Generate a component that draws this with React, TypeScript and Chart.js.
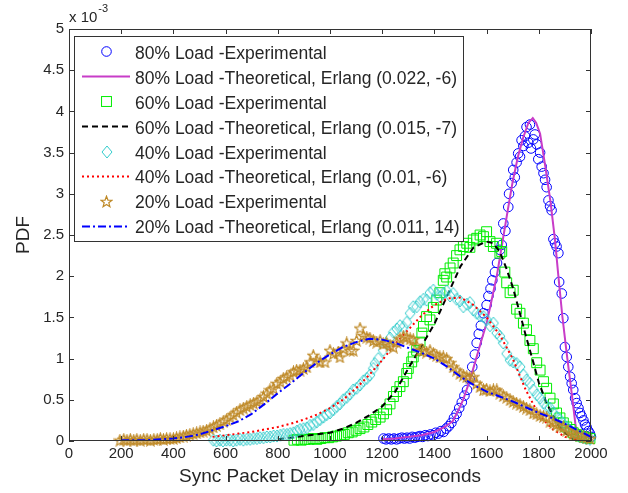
import React, { useEffect, useRef } from 'react';
import { Chart, registerables } from 'chart.js';

Chart.register(...registerables);

const FONT = "'Liberation Sans', Arial, Helvetica, sans-serif";
const AXIS_COLOR = '#333333';
const TEXT_COLOR = '#262626';

const xTicks = [0, 200, 400, 600, 800, 1000, 1200, 1400, 1600, 1800, 2000];
const yTicks = [0, 0.5, 1, 1.5, 2, 2.5, 3, 3.5, 4, 4.5, 5];

const legendLabels = [
  '80% Load -Experimental',
  '80% Load -Theoretical, Erlang (0.022, -6)',
  '60% Load -Experimental',
  '60% Load -Theoretical, Erlang (0.015, -7)',
  '40% Load -Experimental',
  '40% Load -Theoretical, Erlang (0.01, -6)',
  '20% Load -Experimental',
  '20% Load -Theoretical, Erlang (0.011, 14)',
];

// 80% load, experimental (y in units of 1e-3)
const exp80X = [1205, 1215, 1225, 1235, 1245, 1255, 1265, 1275, 1285, 1295, 1305, 1315, 1325, 1335, 1345, 1355, 1365, 1375, 1385, 1395, 1405, 1415, 1425, 1435, 1445, 1455, 1465, 1475, 1485, 1495, 1505, 1515, 1525, 1535, 1545, 1555, 1562, 1570, 1578, 1588, 1600, 1607, 1615, 1622, 1632, 1640, 1651, 1658, 1664, 1672, 1683, 1686, 1696, 1702, 1708, 1715, 1721, 1728, 1734, 1741, 1747, 1753, 1760, 1766, 1770, 1779, 1785, 1792, 1798, 1805, 1811, 1818, 1824, 1830, 1837, 1843, 1849, 1856, 1862, 1868, 1875, 1878, 1888, 1894, 1900, 1907, 1913, 1920, 1926, 1932, 1939, 1945, 1952, 1958, 1964, 1971, 1977, 1983, 1990, 1996, 2000];
const exp80Y = [0.03, 0.02, 0.03, 0.02, 0.03, 0.02, 0.03, 0.04, 0.03, 0.04, 0.03, 0.05, 0.04, 0.05, 0.06, 0.05, 0.07, 0.06, 0.08, 0.07, 0.10, 0.09, 0.12, 0.11, 0.15, 0.18, 0.22, 0.28, 0.33, 0.40, 0.47, 0.55, 0.62, 0.75, 0.90, 1.05, 1.19, 1.30, 1.40, 1.55, 1.65, 1.76, 1.85, 1.95, 2.05, 2.16, 2.32, 2.38, 2.64, 2.55, 2.84, 3.00, 3.13, 3.29, 3.20, 3.38, 3.49, 3.45, 3.65, 3.58, 3.70, 3.81, 3.62, 3.84, 3.55, 3.66, 3.72, 3.60, 3.42, 3.50, 3.33, 3.25, 3.17, 3.08, 2.92, 2.85, 2.80, 2.45, 2.40, 2.36, 2.28, 1.93, 1.79, 1.49, 1.14, 1.02, 0.90, 0.78, 0.70, 0.62, 0.52, 0.46, 0.40, 0.34, 0.30, 0.25, 0.20, 0.17, 0.12, 0.09, 0.05];

// 80% load, theoretical
const theo80X = [1200, 1250, 1300, 1350, 1400, 1440, 1470, 1490, 1510, 1535, 1560, 1580, 1600, 1620, 1640, 1660, 1680, 1700, 1720, 1740, 1760, 1777, 1790, 1805, 1825, 1845, 1862, 1875, 1890, 1907, 1926, 1940, 1950];
const theo80Y = [0.02, 0.03, 0.05, 0.07, 0.11, 0.17, 0.24, 0.36, 0.50, 0.73, 1.00, 1.22, 1.43, 1.72, 2.02, 2.40, 2.78, 3.15, 3.45, 3.68, 3.86, 3.92, 3.86, 3.73, 3.33, 2.90, 2.44, 2.00, 1.52, 1.06, 0.58, 0.21, 0.04];

// 60% load, experimental
const exp60X = [862, 875, 890, 905, 920, 935, 950, 965, 980, 995, 1010, 1025, 1040, 1055, 1070, 1085, 1100, 1115, 1130, 1145, 1160, 1175, 1192, 1205, 1217, 1230, 1243, 1255, 1268, 1281, 1294, 1300, 1313, 1319, 1332, 1345, 1352, 1358, 1370, 1383, 1396, 1409, 1421, 1434, 1440, 1447, 1460, 1472, 1485, 1498, 1511, 1524, 1536, 1549, 1562, 1575, 1588, 1600, 1613, 1626, 1638, 1651, 1658, 1670, 1677, 1690, 1702, 1715, 1728, 1741, 1753, 1766, 1779, 1792, 1805, 1818, 1830, 1843, 1856, 1868, 1881, 1894, 1907, 1920, 1932, 1945, 1958, 1971, 1983, 1996];
const exp60Y = [0.01, 0.02, 0.01, 0.02, 0.02, 0.03, 0.02, 0.03, 0.04, 0.04, 0.05, 0.06, 0.07, 0.08, 0.10, 0.11, 0.13, 0.15, 0.17, 0.20, 0.23, 0.26, 0.29, 0.33, 0.38, 0.45, 0.54, 0.60, 0.66, 0.72, 0.82, 0.88, 0.96, 1.02, 1.10, 1.20, 1.31, 1.39, 1.51, 1.47, 1.62, 1.71, 1.80, 1.95, 2.03, 1.99, 2.10, 2.16, 2.25, 2.32, 2.36, 2.40, 2.35, 2.44, 2.46, 2.50, 2.48, 2.54, 2.42, 2.36, 2.40, 2.28, 2.30, 2.05, 1.92, 1.80, 1.83, 1.60, 1.55, 1.43, 1.35, 1.22, 1.12, 0.95, 0.86, 0.72, 0.64, 0.52, 0.45, 0.34, 0.28, 0.22, 0.17, 0.14, 0.10, 0.08, 0.06, 0.05, 0.04, 0.03];

// 60% load, theoretical
const theo60X = [800, 850, 900, 950, 1000, 1050, 1100, 1150, 1200, 1250, 1300, 1350, 1400, 1450, 1500, 1550, 1600, 1625, 1650, 1675, 1700, 1725, 1750, 1775, 1800, 1825, 1850, 1875, 1900, 1930, 1960];
const theo60Y = [0.02, 0.04, 0.06, 0.08, 0.10, 0.15, 0.22, 0.31, 0.42, 0.60, 0.88, 1.15, 1.42, 1.77, 2.12, 2.35, 2.42, 2.40, 2.30, 2.10, 1.87, 1.58, 1.28, 1.00, 0.71, 0.50, 0.33, 0.19, 0.10, 0.03, 0.01];

// 40% load, experimental
const exp40X = [553, 565, 578, 590, 603, 616, 629, 642, 655, 668, 681, 694, 707, 720, 732, 745, 758, 771, 784, 797, 810, 822, 835, 847, 860, 873, 885, 898, 911, 924, 936, 949, 962, 975, 987, 1000, 1013, 1026, 1038, 1051, 1064, 1077, 1089, 1102, 1115, 1128, 1141, 1153, 1166, 1172, 1185, 1204, 1217, 1230, 1243, 1256, 1268, 1281, 1294, 1307, 1319, 1332, 1345, 1358, 1370, 1383, 1396, 1409, 1421, 1434, 1447, 1460, 1472, 1485, 1498, 1511, 1524, 1536, 1549, 1562, 1575, 1588, 1600, 1613, 1626, 1639, 1651, 1664, 1677, 1690, 1702, 1715, 1728, 1741, 1753, 1766, 1779, 1792, 1805, 1818, 1830, 1843, 1856, 1868, 1881, 1894, 1907, 1920, 1932, 1945, 1958, 1971, 1983, 1996];
const exp40Y = [0.01, 0.00, 0.01, 0.00, 0.01, 0.01, 0.00, 0.01, 0.02, 0.01, 0.02, 0.02, 0.03, 0.03, 0.04, 0.04, 0.05, 0.05, 0.06, 0.06, 0.07, 0.08, 0.08, 0.09, 0.10, 0.12, 0.14, 0.15, 0.16, 0.19, 0.20, 0.23, 0.26, 0.29, 0.32, 0.34, 0.38, 0.42, 0.45, 0.50, 0.53, 0.57, 0.62, 0.64, 0.68, 0.73, 0.76, 0.80, 0.88, 0.94, 1.00, 1.10, 1.18, 1.25, 1.32, 1.36, 1.40, 1.38, 1.44, 1.55, 1.63, 1.63, 1.69, 1.72, 1.71, 1.80, 1.83, 1.78, 1.75, 1.79, 1.82, 1.76, 1.79, 1.72, 1.70, 1.63, 1.66, 1.68, 1.59, 1.55, 1.52, 1.51, 1.47, 1.40, 1.43, 1.31, 1.27, 1.19, 1.06, 0.98, 0.96, 0.94, 0.90, 0.80, 0.74, 0.70, 0.62, 0.56, 0.52, 0.46, 0.42, 0.40, 0.34, 0.29, 0.26, 0.21, 0.17, 0.13, 0.10, 0.07, 0.05, 0.04, 0.03, 0.02];

// 40% load, theoretical
const theo40X = [550, 600, 650, 700, 750, 800, 850, 900, 950, 1000, 1050, 1100, 1150, 1200, 1250, 1300, 1350, 1400, 1450, 1500, 1550, 1600, 1650, 1700, 1750, 1800, 1850, 1900, 1950];
const theo40Y = [0.05, 0.07, 0.09, 0.11, 0.14, 0.17, 0.21, 0.26, 0.32, 0.40, 0.50, 0.64, 0.80, 0.98, 1.18, 1.35, 1.52, 1.65, 1.73, 1.74, 1.65, 1.50, 1.29, 1.00, 0.62, 0.32, 0.15, 0.05, 0.01];

// 20% load, experimental
const exp20X = [195, 210, 222, 235, 248, 260, 273, 286, 299, 312, 325, 338, 350, 362, 374, 387, 400, 412, 425, 438, 450, 463, 476, 489, 502, 514, 527, 540, 553, 565, 578, 591, 604, 617, 629, 642, 655, 668, 681, 694, 707, 720, 732, 745, 758, 770, 783, 796, 809, 821, 834, 847, 860, 872, 885, 898, 911, 924, 936, 949, 962, 981, 1000, 1013, 1032, 1038, 1051, 1064, 1077, 1089, 1102, 1115, 1128, 1141, 1153, 1166, 1179, 1192, 1204, 1217, 1230, 1243, 1256, 1268, 1281, 1294, 1307, 1319, 1332, 1345, 1358, 1370, 1383, 1396, 1409, 1421, 1434, 1447, 1460, 1472, 1485, 1498, 1511, 1524, 1536, 1549, 1562, 1575, 1588, 1600, 1613, 1626, 1639, 1651, 1664, 1677, 1690, 1702, 1715, 1728, 1741, 1753, 1766, 1779, 1792, 1805, 1818, 1830, 1843, 1856, 1868, 1881, 1894, 1907, 1920, 1932, 1945, 1958, 1971, 1983, 1996];
const exp20Y = [0.01, 0.02, 0.01, 0.02, 0.01, 0.02, 0.01, 0.02, 0.02, 0.01, 0.02, 0.02, 0.03, 0.02, 0.03, 0.03, 0.03, 0.04, 0.05, 0.06, 0.07, 0.08, 0.09, 0.10, 0.11, 0.12, 0.13, 0.15, 0.17, 0.19, 0.21, 0.24, 0.26, 0.29, 0.32, 0.35, 0.38, 0.40, 0.42, 0.44, 0.46, 0.48, 0.50, 0.54, 0.58, 0.62, 0.64, 0.70, 0.72, 0.76, 0.78, 0.80, 0.84, 0.86, 0.86, 0.88, 0.90, 0.96, 1.04, 0.98, 0.96, 0.96, 1.10, 1.06, 1.08, 1.02, 1.12, 1.19, 1.10, 1.10, 1.22, 1.37, 1.28, 1.26, 1.25, 1.22, 1.20, 1.22, 1.18, 1.19, 1.16, 1.14, 1.20, 1.24, 1.27, 1.26, 1.24, 1.23, 1.16, 1.10, 1.10, 1.08, 1.10, 1.06, 1.04, 1.02, 1.02, 1.00, 0.95, 0.90, 0.86, 0.82, 0.80, 0.78, 0.77, 0.78, 0.70, 0.66, 0.62, 0.63, 0.61, 0.62, 0.62, 0.58, 0.55, 0.53, 0.50, 0.48, 0.46, 0.44, 0.42, 0.40, 0.38, 0.34, 0.33, 0.31, 0.30, 0.29, 0.24, 0.22, 0.20, 0.18, 0.17, 0.13, 0.11, 0.09, 0.08, 0.07, 0.05, 0.04, 0.03];

// 20% load, theoretical
const theo20X = [200, 250, 300, 350, 400, 450, 500, 550, 600, 650, 700, 750, 800, 850, 900, 950, 1000, 1050, 1100, 1150, 1200, 1250, 1300, 1350, 1400, 1450, 1500, 1550, 1600, 1650, 1700, 1750, 1800, 1850, 1900, 1950, 2000];
const theo20Y = [0.01, 0.01, 0.01, 0.02, 0.03, 0.05, 0.08, 0.13, 0.18, 0.24, 0.33, 0.45, 0.58, 0.70, 0.83, 0.95, 1.05, 1.14, 1.20, 1.24, 1.23, 1.19, 1.13, 1.07, 1.00, 0.90, 0.78, 0.68, 0.60, 0.54, 0.48, 0.41, 0.34, 0.28, 0.21, 0.13, 0.05];

const COLORS = {
  blue: '#0000ff',
  magenta: '#c83cc8',
  green: '#00ee00',
  black: '#000000',
  cyan: '#33cccc',
  red: '#ff0000',
  gold: '#bf8a28',
};

function pts(xs: number[], ys: number[]) {
  return xs.map((x, i) => ({ x, y: ys[i] }));
}

function makeStar(color: string): HTMLCanvasElement {
  const c = document.createElement('canvas');
  c.width = 13;
  c.height = 13;
  const ctx = c.getContext('2d')!;
  const cx = 6.5, cy = 7, R = 5.8, r = 2.4;
  ctx.beginPath();
  for (let i = 0; i < 10; i++) {
    const rad = i % 2 === 0 ? R : r;
    const a = -Math.PI / 2 + (i * Math.PI) / 5;
    const px = cx + rad * Math.cos(a);
    const py = cy + rad * Math.sin(a);
    if (i === 0) ctx.moveTo(px, py);
    else ctx.lineTo(px, py);
  }
  ctx.closePath();
  ctx.strokeStyle = color;
  ctx.lineWidth = 1.2;
  ctx.stroke();
  return c;
}

function makeDiamond(color: string): HTMLCanvasElement {
  const c = document.createElement('canvas');
  c.width = 12;
  c.height = 14;
  const ctx = c.getContext('2d')!;
  ctx.beginPath();
  ctx.moveTo(6, 1);
  ctx.lineTo(11, 7);
  ctx.lineTo(6, 13);
  ctx.lineTo(1, 7);
  ctx.closePath();
  ctx.strokeStyle = color;
  ctx.lineWidth = 1;
  ctx.stroke();
  return c;
}

export default function App() {
  const ref = useRef<HTMLCanvasElement | null>(null);

  useEffect(() => {
    if (!ref.current) return;
    const star = makeStar(COLORS.gold);
    const diamond = makeDiamond(COLORS.cyan);

    const datasets: any[] = [
      { label: legendLabels[0], data: pts(exp80X, exp80Y), showLine: false, pointStyle: 'circle', pointRadius: 4.8, borderColor: COLORS.blue, backgroundColor: 'rgba(0,0,0,0)', pointBorderWidth: 1, kind: 'marker' },
      { label: legendLabels[1], data: pts(theo80X, theo80Y), showLine: true, pointRadius: 0, borderColor: COLORS.magenta, borderWidth: 2, borderDash: [], kind: 'line' },
      { label: legendLabels[2], data: pts(exp60X, exp60Y), showLine: false, pointStyle: 'rect', pointRadius: 7, borderColor: COLORS.green, backgroundColor: 'rgba(0,0,0,0)', pointBorderWidth: 1, kind: 'marker' },
      { label: legendLabels[3], data: pts(theo60X, theo60Y), showLine: true, pointRadius: 0, borderColor: COLORS.black, borderWidth: 2, borderDash: [6, 4], kind: 'line' },
      { label: legendLabels[4], data: pts(exp40X, exp40Y), showLine: false, pointStyle: diamond, pointRadius: 6, borderColor: COLORS.cyan, backgroundColor: 'rgba(0,0,0,0)', kind: 'marker' },
      { label: legendLabels[5], data: pts(theo40X, theo40Y), showLine: true, pointRadius: 0, borderColor: COLORS.red, borderWidth: 2, borderDash: [2, 3], kind: 'line' },
      { label: legendLabels[6], data: pts(exp20X, exp20Y), showLine: false, pointStyle: star, pointRadius: 6, borderColor: COLORS.gold, backgroundColor: 'rgba(0,0,0,0)', kind: 'marker' },
      { label: legendLabels[7], data: pts(theo20X, theo20Y), showLine: true, pointRadius: 0, borderColor: COLORS.blue, borderWidth: 2, borderDash: [8, 3, 2, 3], kind: 'line' },
    ];
    datasets.forEach((d, i) => {
      d.order = datasets.length - i;
      d.tension = 0;
      d.fill = false;
      if (d.kind === 'marker') d.clip = 8;
    });

    const framePlugin = {
      id: 'matlabFrame',
      afterDraw(chart: any) {
        const { ctx, chartArea } = chart;
        const { left, right, top, bottom } = chartArea;
        const xs = chart.scales.x;
        const ys = chart.scales.y;
        ctx.save();
        ctx.strokeStyle = AXIS_COLOR;
        ctx.lineWidth = 1;
        ctx.setLineDash([]);
        ctx.strokeRect(left + 0.5, top + 0.5, right - left - 1, bottom - top - 1);
        const tl = 5;
        ctx.beginPath();
        xTicks.forEach((v) => {
          const px = Math.round(xs.getPixelForValue(v)) + 0.5;
          ctx.moveTo(px, bottom);
          ctx.lineTo(px, bottom - tl);
          ctx.moveTo(px, top);
          ctx.lineTo(px, top + tl);
        });
        yTicks.forEach((v) => {
          const py = Math.round(ys.getPixelForValue(v)) + 0.5;
          ctx.moveTo(left, py);
          ctx.lineTo(left + tl, py);
          ctx.moveTo(right, py);
          ctx.lineTo(right - tl, py);
        });
        ctx.stroke();

        // exponent label
        ctx.fillStyle = TEXT_COLOR;
        ctx.textBaseline = 'alphabetic';
        ctx.textAlign = 'left';
        ctx.font = `15px ${FONT}`;
        ctx.fillText('x 10', left, 22);
        const w = ctx.measureText('x 10').width;
        ctx.font = `11px ${FONT}`;
        ctx.fillText('-3', left + w + 1, 12);

        // legend
        const lx = 74, ly = 36, lw = 389, lh = 205;
        ctx.fillStyle = '#ffffff';
        ctx.fillRect(lx, ly, lw, lh);
        ctx.strokeStyle = AXIS_COLOR;
        ctx.strokeRect(lx + 0.5, ly + 0.5, lw, lh);
        chart.data.datasets.forEach((d: any, i: number) => {
          const base = 58.7 + i * 24.95;
          const mid = Math.round(base - 7.5) + 0.5;
          ctx.save();
          if (d.kind === 'line') {
            ctx.strokeStyle = d.borderColor;
            ctx.lineWidth = d.borderWidth;
            ctx.setLineDash(d.borderDash || []);
            ctx.beginPath();
            ctx.moveTo(82, mid);
            ctx.lineTo(130, mid);
            ctx.stroke();
          } else {
            const cx = 106.5;
            ctx.strokeStyle = d.borderColor;
            ctx.lineWidth = 1;
            if (d.pointStyle === 'circle') {
              ctx.beginPath();
              ctx.arc(cx, mid, d.pointRadius, 0, Math.PI * 2);
              ctx.stroke();
            } else if (d.pointStyle === 'rect') {
              const s = Math.SQRT1_2 * d.pointRadius;
              ctx.strokeRect(cx - s, mid - s, 2 * s, 2 * s);
            } else if (d.pointStyle instanceof HTMLCanvasElement) {
              const img = d.pointStyle as HTMLCanvasElement;
              ctx.drawImage(img, Math.round(cx - img.width / 2), Math.round(mid - img.height / 2));
            }
          }
          ctx.restore();
          ctx.fillStyle = TEXT_COLOR;
          ctx.font = `17.5px ${FONT}`;
          ctx.textAlign = 'left';
          ctx.textBaseline = 'alphabetic';
          ctx.fillText(d.label, 135, base);
        });
        ctx.restore();
      },
    };

    const chart = new Chart(ref.current, {
      type: 'scatter',
      data: { datasets },
      options: {
        animation: false,
        responsive: true,
        maintainAspectRatio: false,
        devicePixelRatio: 1,
        layout: { padding: { left: 0, right: 37, top: 29, bottom: 0 } },
        plugins: {
          legend: { display: false },
          tooltip: { enabled: false },
        },
        elements: { line: { tension: 0 } },
        scales: {
          x: {
            type: 'linear',
            min: 0,
            max: 2000,
            afterFit: (s: any) => { s.height = 52; },
            afterBuildTicks: (s: any) => { s.ticks = xTicks.map((v) => ({ value: v })); },
            ticks: {
              color: TEXT_COLOR,
              font: { family: FONT, size: 15 },
              padding: 4,
              maxRotation: 0,
              autoSkip: false,
              callback: (v: any) => String(v),
            },
            grid: { display: false, drawTicks: false },
            border: { display: false },
            title: {
              display: true,
              text: 'Sync Packet Delay in microseconds',
              color: TEXT_COLOR,
              font: { family: FONT, size: 19 },
              padding: { top: 0, bottom: 5 },
            },
          },
          y: {
            type: 'linear',
            min: 0,
            max: 5,
            afterFit: (s: any) => { s.width = 69; },
            afterBuildTicks: (s: any) => { s.ticks = yTicks.map((v) => ({ value: v })); },
            ticks: {
              color: TEXT_COLOR,
              font: { family: FONT, size: 15 },
              padding: 5,
              autoSkip: false,
              callback: (v: any) => String(v),
            },
            grid: { display: false, drawTicks: false },
            border: { display: false },
            title: {
              display: true,
              text: 'PDF',
              color: TEXT_COLOR,
              font: { family: FONT, size: 19 },
              padding: { top: 12, bottom: 0 },
            },
          },
        },
      } as any,
      plugins: [framePlugin],
    });
    return () => chart.destroy();
  }, []);

  return (
    <div style={{ position: 'fixed', left: 0, top: 0, width: 628, height: 493, background: '#ffffff' }}>
      <canvas ref={ref} />
    </div>
  );
}
